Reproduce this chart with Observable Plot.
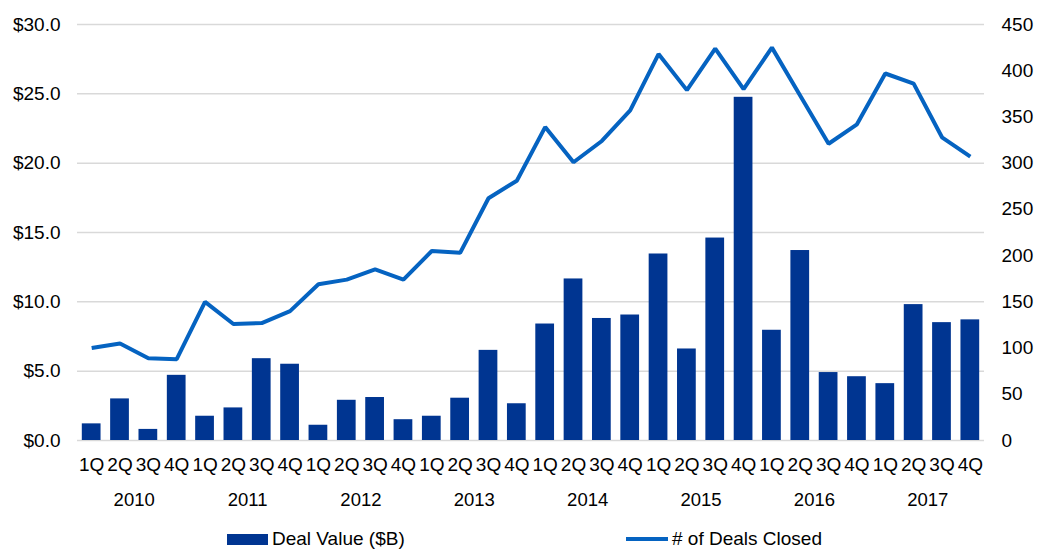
<!DOCTYPE html>
<html>
<head>
<meta charset="utf-8">
<script src="https://cdn.jsdelivr.net/npm/d3@7"></script>
<script src="https://cdn.jsdelivr.net/npm/@observablehq/plot@0.6"></script>
<style>
  html, body { margin: 0; padding: 0; background: #fff; }
  body { width: 1037px; height: 549px; overflow: hidden; font-family: "Liberation Sans", Arial, sans-serif; }
  #legend { position: relative; height: 29px; font-size: 19px; color: #000; }
  .item { position: absolute; top: 8px; height: 22px; line-height: 22px; display: flex; align-items: center; white-space: nowrap; }
  .sw-bar { width: 41px; height: 11px; background: #003591; margin-right: 4px; }
  .sw-line { width: 42px; height: 4px; background: #0563C1; margin-right: 4px; }
</style>
</head>
<body>
<div id="chart"></div>
<div id="legend">
  <div class="item" style="left:227px"><span class="sw-bar"></span>Deal Value ($B)</div>
  <div class="item" style="left:626px"><span class="sw-line"></span># of Deals Closed</div>
</div>
<script>
const quarters = ["1Q", "2Q", "3Q", "4Q"];
const years = ["2010", "2011", "2012", "2013", "2014", "2015", "2016", "2017"];
const dealValue = [1.2, 3.0, 0.8, 4.7, 1.75, 2.35, 5.9, 5.5, 1.1, 2.9, 3.1, 1.5, 1.75, 3.05, 6.5, 2.65,
                   8.4, 11.65, 8.8, 9.05, 13.45, 6.6, 14.6, 24.75, 7.95, 13.7, 4.9, 4.6, 4.1, 9.8, 8.5, 8.7];
const dealsClosed = [100, 105, 89, 88, 150, 126, 127, 140, 169, 174, 185, 174, 205, 203, 262, 281,
                     339, 301, 324, 357, 418, 379, 424, 380, 425, 373, 321, 342, 397, 386, 328, 307];
const leftTicks = [0, 5, 10, 15, 20, 25, 30];
const rightTicks = [0, 50, 100, 150, 200, 250, 300, 350, 400, 450];
const ratio = 450 / 30;

const data = dealValue.map((v, i) => ({
  i,
  quarter: quarters[i % 4],
  year: years[Math.floor(i / 4)],
  value: v,
  deals: dealsClosed[i]
}));
const yearData = years.map((y, k) => ({year: y, mid: k * 4 + 2}));

const chart = Plot.plot({
  width: 1037,
  height: 520,
  marginTop: 24,
  marginBottom: 80,
  marginLeft: 77,
  marginRight: 53,
  style: {fontFamily: "'Liberation Sans', Arial, sans-serif", color: "#000", background: "#fff"},
  x: {domain: [0, data.length], axis: null},
  y: {domain: [0, 30], axis: null},
  marks: [
    Plot.gridY(leftTicks, {stroke: "#d9d9d9", strokeOpacity: 1, strokeWidth: 1.5}),
    Plot.rectY(data, {x1: d => d.i, x2: d => d.i + 1, y: "value", fill: "#003591", insetLeft: 4.8, insetRight: 4.8}),
    Plot.lineY(data, {x: d => d.i + 0.5, y: d => d.deals / ratio, stroke: "#0563C1", strokeWidth: 4, strokeLinejoin: "miter", strokeLinecap: "butt"}),
    Plot.axisY(leftTicks, {anchor: "left", label: null, tickSize: 0, tickPadding: 17, fontSize: 19, tickFormat: d => "$" + d.toFixed(1)}),
    Plot.axisY(rightTicks.map(t => t / ratio), {anchor: "right", label: null, tickSize: 0, tickPadding: 17, fontSize: 19, textAnchor: "start", tickFormat: d => String(Math.round(d * ratio))}),
    Plot.axisX(data.map(d => d.i + 0.5), {anchor: "bottom", label: null, tickSize: 0, tickPadding: 17, fontSize: 19, tickFormat: d => quarters[Math.floor(d) % 4]}),
    Plot.text(yearData, {x: "mid", y: 0, text: "year", dy: 60, fontSize: 18.5, lineAnchor: "middle", fill: "#000"})
  ]
});
document.getElementById("chart").appendChild(chart);
</script>
</body>
</html>
